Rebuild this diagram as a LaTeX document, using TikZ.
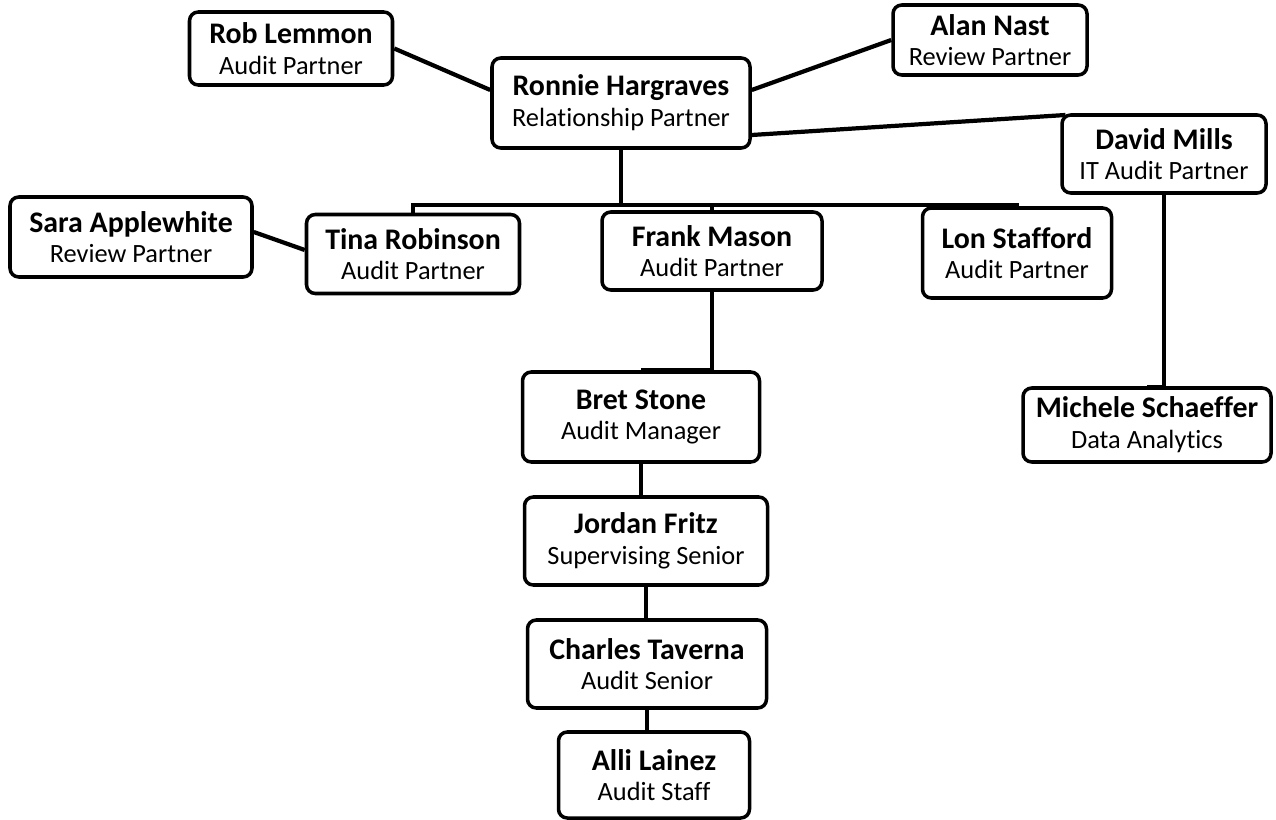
\documentclass[tikz,border=0pt]{standalone}
\usepackage{fontspec}
\setmainfont{Carlito}[Ligatures=NoCommon]
\usepackage{tikz}
\usetikzlibrary{positioning, calc}
\newcommand{\pname}[1]{{\fontsize{17}{17}\selectfont\bfseries #1}}
\tikzset{
  staffbox/.style={draw=black, fill=white, line width=2pt, rounded corners=5pt,
                   align=center, inner sep=3pt, font=\fontsize{15}{17.5}\selectfont},
  link/.style={line width=2.4pt, black},
  thinlink/.style={line width=1.8pt, black},
}
\begin{document}
\begin{tikzpicture}
  \useasboundingbox (0,0) rectangle (25.52,-16.4);
  % Partners
  \node[staffbox, minimum width=5.16cm, minimum height=1.80cm] (rh) at (12.42,-2.06) {\pname{Ronnie Hargraves}\\Relationship Partner};
  \node[staffbox, minimum width=4.06cm, minimum height=1.46cm] (rl) at (5.82,-0.97) {\pname{Rob Lemmon}\\Audit Partner};
  \node[staffbox, minimum width=3.88cm, minimum height=1.40cm] (an) at (19.80,-0.80) {\pname{Alan Nast}\\Review Partner};
  \node[staffbox, minimum width=4.08cm, minimum height=1.56cm] (dm) at (23.28,-3.08) {\pname{David Mills}\\IT Audit Partner};
  \draw[link] (rl.east) -- ([yshift=0.26cm]rh.west);
  \draw[link] ([yshift=0.26cm]rh.east) -- (an.west);
  \draw[link] ([yshift=-0.64cm]rh.east) -- ([xshift=3pt,yshift=-1pt]dm.north west);
  % Audit partners
  \node[staffbox, minimum width=4.84cm, minimum height=1.60cm] (sa) at (2.62,-4.74) {\pname{Sara Applewhite}\\Review Partner};
  \node[staffbox, minimum width=4.26cm, minimum height=1.58cm] (tr) at (8.26,-5.08) {\pname{Tina Robinson}\\Audit Partner};
  \node[staffbox, minimum width=4.40cm, minimum height=1.56cm] (fm) at (14.24,-5.02) {\pname{Frank Mason}\\Audit Partner};
  \node[staffbox, minimum width=3.78cm, minimum height=1.80cm] (ls) at (20.34,-5.06) {\pname{Lon Stafford}\\Audit Partner};
  \coordinate (bus) at (12.42,-4.10);
  \draw[link] (rh.south) -- (bus);
  \draw[link] (tr.north) |- (bus) -| (ls.north);
  \draw[link] (fm.north) -- (fm.north |- bus);
  \draw[link] ([yshift=0.1cm]sa.east) -- ([yshift=0.08cm]tr.west);
  % Engagement team
  \node[staffbox, minimum width=4.74cm, minimum height=1.80cm] (bs) at (12.82,-8.34) {\pname{Bret Stone}\\Audit Manager};
  \node[staffbox, minimum width=4.86cm, minimum height=1.76cm] (jf) at (12.92,-10.82) {\pname{Jordan Fritz}\\Supervising Senior};
  \node[staffbox, minimum width=4.78cm, minimum height=1.76cm] (ct) at (12.94,-13.28) {\pname{Charles Taverna}\\Audit Senior};
  \node[staffbox, minimum width=3.82cm, minimum height=1.72cm] (al) at (13.08,-15.50) {\pname{Alli Lainez}\\Audit Staff};
  \draw[link] (fm.south) |- (bs.north);
  \draw[thinlink] (bs.south) -- (bs.south |- jf.north);
  \draw[thinlink] (jf.south) -- (jf.south |- ct.north);
  \draw[thinlink] (ct.south) -- (ct.south |- al.north);
  % IT audit
  \node[staffbox, minimum width=4.96cm, minimum height=1.48cm] (ms) at (22.94,-8.50) {\pname{Michele Schaeffer}\\Data Analytics};
  \draw[thinlink] (dm.south) |- (ms.north);
\end{tikzpicture}
\end{document}
